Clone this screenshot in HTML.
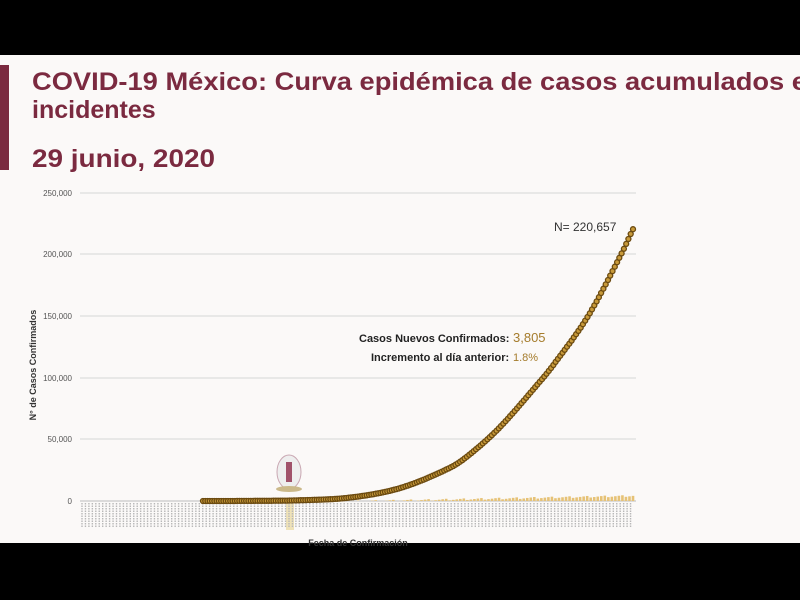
<!DOCTYPE html>
<html><head><meta charset="utf-8"><style>
html,body{margin:0;padding:0;width:800px;height:600px;overflow:hidden;background:#000}
</style></head><body>
<svg width="800" height="600" xmlns="http://www.w3.org/2000/svg" font-family="Liberation Sans, sans-serif">
<rect x="0" y="55" width="800" height="488" fill="#fbf9f8"/>
<rect x="0" y="65" width="9" height="105" fill="#7b2a40"/>
<text x="32" y="90" font-size="25" font-weight="bold" fill="#7b2a40" textLength="775" lengthAdjust="spacingAndGlyphs">COVID-19 México: Curva epidémica de casos acumulados e</text>
<text x="32" y="118" font-size="25" font-weight="bold" fill="#7b2a40">incidentes</text>
<text x="32" y="167" font-size="25" font-weight="bold" fill="#7b2a40" textLength="183" lengthAdjust="spacingAndGlyphs">29 junio, 2020</text>
<g stroke="#d6d6d6" stroke-width="1">
<line x1="80" y1="193" x2="636" y2="193"/><line x1="80" y1="254" x2="636" y2="254"/>
<line x1="80" y1="316" x2="636" y2="316"/><line x1="80" y1="378" x2="636" y2="378"/>
<line x1="80" y1="439" x2="636" y2="439"/><line x1="80" y1="501" x2="636" y2="501" stroke="#bbb"/>
</g>
<g font-size="8" fill="#555" text-anchor="end">
<text x="72" y="196">250,000</text><text x="72" y="257">200,000</text><text x="72" y="319">150,000</text>
<text x="72" y="381">100,000</text><text x="72" y="442">50,000</text><text x="72" y="504">0</text>
</g>
<text transform="translate(36,365) rotate(-90)" font-size="9" font-weight="bold" fill="#333" text-anchor="middle">N° de Casos Confirmados</text>
<text x="358" y="546" font-size="9" font-weight="bold" fill="#333" text-anchor="middle">Fecha de Confirmación</text>
<rect x="286" y="502" width="8" height="28" fill="#efe2b8"/>
<ellipse cx="289" cy="472" rx="12" ry="17" fill="#eee" stroke="#c9a7b2"/>
<rect x="286" y="462" width="6" height="20" fill="#a0526a"/>
<ellipse cx="289" cy="489" rx="13" ry="3" fill="#cbb98a"/>
<g id="g"></g>
<text x="554" y="231" font-size="12" fill="#333">N= 220,657</text>
<text x="359" y="342" font-size="11" font-weight="bold" fill="#222">Casos Nuevos Confirmados:</text>
<text x="513" y="342" font-size="13" fill="#a57c2c">3,805</text>
<text x="371" y="361" font-size="11" font-weight="bold" fill="#222">Incremento al día anterior:</text>
<text x="513" y="361" font-size="11" fill="#a57c2c">1.8%</text>
</svg>
<script>
var g=document.getElementById('g'),s='';
var P=[[203,0],[250,100],[300,600],[350,2800],[400,10500],[450,27000],[470,38000],[500,60000],[540,97000],[553,110000],[588,150000],[621,200000],[633,220657]];
function val(x){for(var i=1;i<P.length;i++){if(x<=P[i][0]){
var p0=P[Math.max(0,i-2)],p1=P[i-1],p2=P[i],p3=P[Math.min(P.length-1,i+1)];
var t=(x-p1[0])/(p2[0]-p1[0]);
var m1=(p2[1]-p0[1])/(p2[0]-p0[0])*(p2[0]-p1[0]);
var m2=(p3[1]-p1[1])/(p3[0]-p1[0]||1)*(p2[0]-p1[0]);
if(i==P.length-1)m2=(p2[1]-p1[1]);
var t2=t*t,t3=t2*t;
return (2*t3-3*t2+1)*p1[1]+(t3-2*t2+t)*m1+(-2*t3+3*t2)*p2[1]+(t3-t2)*m2;}}return 220657;}
var n=123;
for(var i=0;i<n;i++){var x=203+i*(430/(n-1));
var bh=Math.min(7,Math.max(0,(i-60)*0.07+(i%5)*0.4));
if(bh>0)s+='<rect x="'+(x-1.3)+'" y="'+(501-bh)+'" width="2.6" height="'+bh+'" fill="#e6c276"/>';}
var m=190;
for(var i=0;i<m;i++){var x=203+i*(430/(m-1));var v=Math.max(0,val(x));var y=501-v/50000*61.6;
s+='<circle cx="'+x.toFixed(1)+'" cy="'+y.toFixed(1)+'" r="2.5" fill="#c89a3a" stroke="#6b4a10" stroke-width="1.3"/>';}
var lbl='';for(var i=0;i<160;i++){var x=82+i*3.45;lbl+='<line x1="'+x+'" y1="503" x2="'+x+'" y2="528" stroke="#b8b8b8" stroke-width="1.4" stroke-dasharray="1.5,1"/>';}
g.innerHTML=lbl+s;
</script>
</body></html>
